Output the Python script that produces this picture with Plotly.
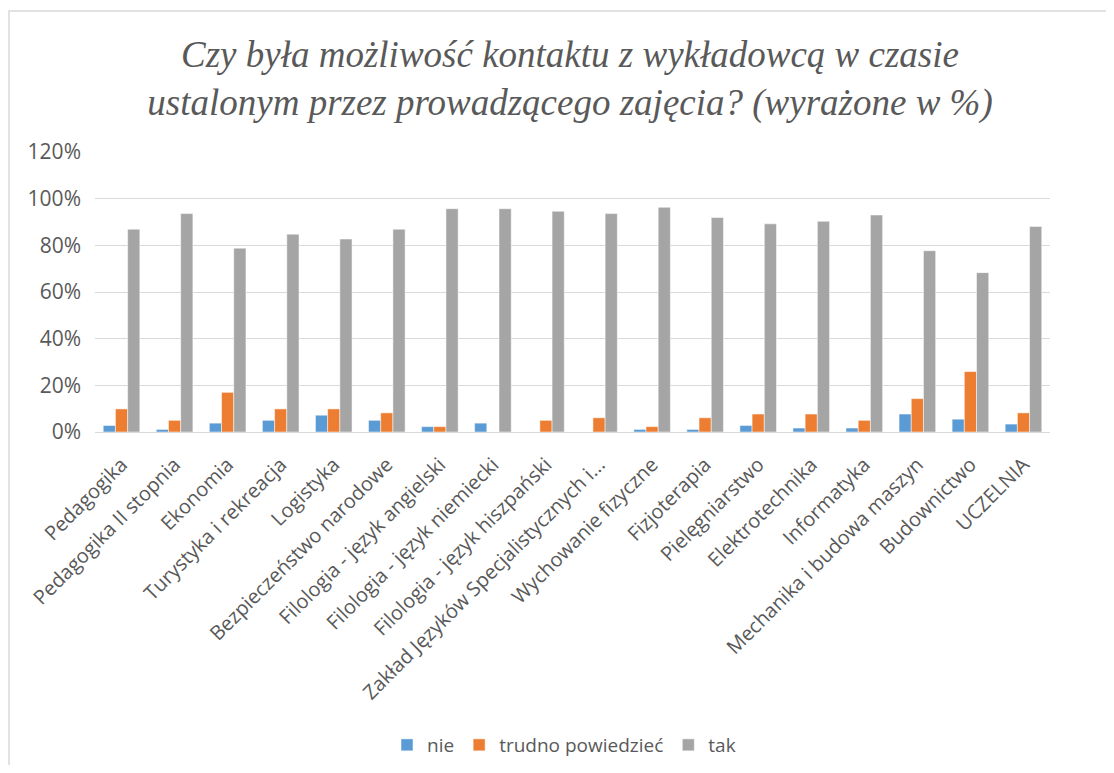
import plotly.graph_objects as go

categories = [
    "Pedagogika", "Pedagogika II stopnia", "Ekonomia", "Turystyka i rekreacja",
    "Logistyka", "Bezpieczeństwo narodowe", "Filologia - język angielski",
    "Filologia - język niemiecki", "Filologia - język hiszpański",
    "Zakład Języków Specjalistycznych i...", "Wychowanie fizyczne",
    "Fizjoterapia", "Pielęgniarstwo", "Elektrotechnika", "Informatyka",
    "Mechanika i budowa maszyn", "Budownictwo", "UCZELNIA",
]
nie = [2.8, 1.1, 3.8, 5.0, 7.2, 5.0, 2.3, 3.8, 0.0, 0.0, 1.1, 1.1, 2.8, 1.7, 1.7, 7.7, 5.5, 3.4]
trudno = [9.9, 5.0, 17.0, 9.9, 9.9, 8.2, 2.3, 0.0, 5.0, 6.1, 2.3, 6.1, 7.7, 7.7, 5.0, 14.3, 25.9, 8.2]
tak = [86.9, 93.6, 78.8, 84.8, 82.7, 86.9, 95.7, 95.7, 94.6, 93.6, 96.3, 91.9, 89.2, 90.3, 93.0, 77.7, 68.3, 88.1]

series = [("nie", nie, "#5B9BD5"), ("trudno powiedzieć", trudno, "#ED7D31"), ("tak", tak, "#A5A5A5")]

fig = go.Figure()
for name, vals, color in series:
    fig.add_trace(go.Bar(
        x=categories, y=[v / 100 for v in vals], name=name,
        marker=dict(color=color, line=dict(color="white", width=0.5)),
    ))

OFF = 8  # page body margin
W, H = 1114 - 2 * OFF, 773 - 2 * OFF
L, T = 95 - OFF, 152 - OFF
R = W - (1050 - OFF)
B = H - (432 - OFF)
pw, ph = W - L - R, H - T - B

def px(x):
    return (x - OFF - L) / pw

def py(y):
    return (H - B - (y - OFF)) / ph

fig.update_layout(
    width=W, height=H,
    margin=dict(l=L, r=R, t=T, b=B, autoexpand=False),
    paper_bgcolor="white", plot_bgcolor="white",
    barmode="group", bargap=0.31, bargroupgap=0,
    title=dict(
        text="Czy była możliwość kontaktu z wykładowcą w czasie<br>ustalonym przez prowadzącego zajęcia? (wyrażone w %)",
        x=px(570), xanchor="center", y=1 - (67 - OFF) / H, yanchor="middle",
        xref="paper",
        font=dict(family="Liberation Serif", size=37, color="#595959", style="italic"),
    ),
    font=dict(family="Open Sans", size=19, color="#595959"),
    showlegend=True,
    legend=dict(
        orientation="h", x=px(564), xanchor="center", y=py(745), yanchor="middle",
        font=dict(size=19, color="#595959"), traceorder="normal",
    ),
    xaxis=dict(
        tickangle=-45, showgrid=False, showline=True, linecolor="#D9D9D9",
        linewidth=1, ticks="", tickfont=dict(size=20, color="#595959"),
        ticklabelstandoff=12, automargin=False,
    ),
    yaxis=dict(
        range=[0, 1.2], dtick=0.2, tickformat=".0%", showgrid=True,
        gridcolor="#D9D9D9", gridwidth=1, zeroline=False, showline=False,
        ticks="", tickfont=dict(size=21, color="#595959"), ticklabelstandoff=13,
        automargin=False,
    ),
    shapes=[dict(
        type="rect", xref="paper", yref="paper",
        x0=px(9), x1=px(1130), y0=py(800), y1=py(11),
        line=dict(color="#D9D9D9", width=1.5), fillcolor="rgba(0,0,0,0)", layer="below",
    )],
)

fig.write_html("out.html")
